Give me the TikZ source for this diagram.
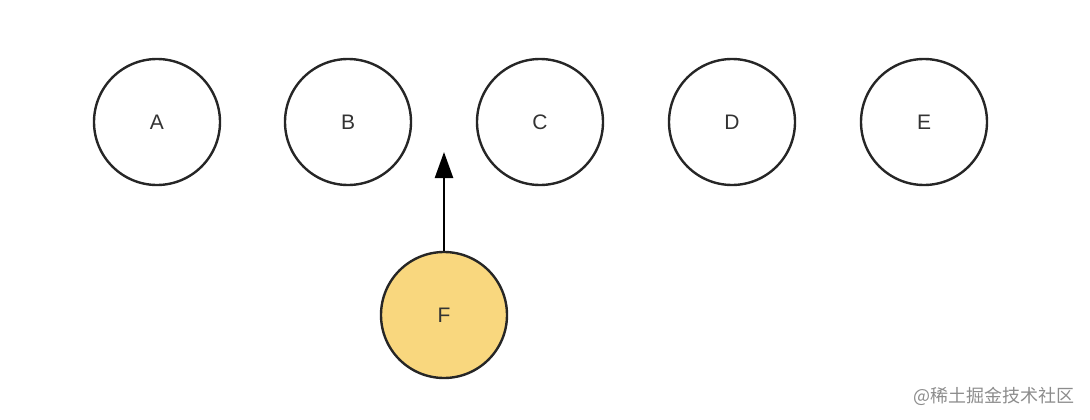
\documentclass[tikz,border=0pt]{standalone}
\usepackage{fontspec}
\setmainfont{Liberation Sans}
\newfontfamily\cjkfont{Noto Sans CJK SC}
\usetikzlibrary{arrows.meta}
\definecolor{fyellow}{HTML}{F9D77E}

\begin{document}
\begin{tikzpicture}[x=1pt,y=-1pt]

 \tikzset{
    elem/.style={circle, draw=black!85, line width=2.4pt, minimum size=126pt,
      inner sep=0pt, font=\fontsize{21}{21}\selectfont, text=black!80},
    newelem/.style={elem, fill=fyellow},
    push/.style={-{Triangle[length=26pt,width=18pt]}, line width=2.4pt, draw=black},
    watermark/.style={font=\cjkfont\fontsize{18}{18}\selectfont, text=black!45},
  }

  \useasboundingbox (0,0) rectangle (1090,420);

  \node[elem] (A) at (157,122) {A};
  \node[elem] (B) at (348,122) {B};
  \node[elem] (C) at (540,122) {C};
  \node[elem] (D) at (732,122) {D};
  \node[elem] (E) at (924,122) {E};

  \node[newelem] (F) at (444,315) {F};
  \coordinate (slot) at (444,152);
  \draw[push] (F.north) -- (slot);

  \node[watermark, anchor=east] (wm) at (1078,396) {@稀土掘金技术社区};
\end{tikzpicture}
\end{document}
